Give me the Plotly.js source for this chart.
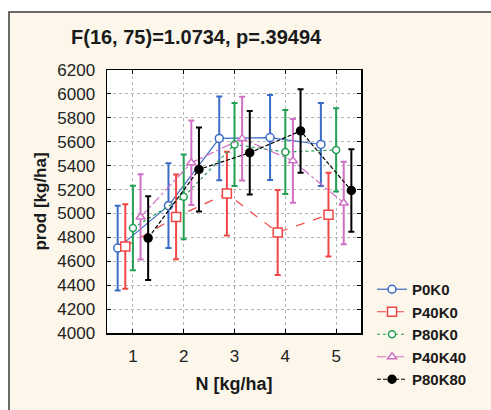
<!DOCTYPE html>
<html>
<head>
<meta charset="utf-8">
<script src="https://cdn.plot.ly/plotly-3.0.1.min.js"></script>
<style>html,body{margin:0;padding:0;background:#fff;}#chart{width:491px;height:410px;}</style>
</head>
<body>
<div id="chart"></div>
<script>
// ---- data ----
const xLevels = [1, 2, 3, 4, 5];
const xTickLabels = ['1', '2', '3', '4', '5'];
const yTicks = [4000, 4200, 4400, 4600, 4800, 5000, 5200, 5400, 5600, 5800, 6000, 6200];

const seriesNames = ['P0K0', 'P40K0', 'P80K0', 'P40K40', 'P80K80'];

const P0K0   = [4710, 5065, 5628, 5635, 5577];
const P40K0  = [4724, 4971, 5166, 4841, 4990];
const P80K0  = [4878, 5139, 5577, 5514, 5531];
const P40K40 = [4971, 5424, 5626, 5440, 5088];
const P80K80 = [4794, 5368, 5508, 5690, 5192];

const P0K0_err   = [355, 355, 350, 355, 347];
const P40K0_err  = [354, 355, 350, 355, 350];
const P80K0_err  = [353, 354, 347, 351, 348];
const P40K40_err = [357, 353, 350, 350, 345];
const P80K80_err = [350, 352, 350, 350, 345];

const seriesValues = [P0K0, P40K0, P80K0, P40K40, P80K80];
const seriesErrors = [P0K0_err, P40K0_err, P80K0_err, P40K40_err, P80K80_err];

// ---- styles ----
const colors  = ['#3b6cc6', '#f04646', '#23a055', '#d070c4', '#000000'];
const dashes  = ['solid', 'dash', 'dot', 'dashdot', '4px,2px'];
const symbols = ['circle', 'square', 'circle', 'triangle-up', 'circle'];
const fills   = ['#ffffff', '#ffffff', '#ffffff', '#ffffff', '#000000'];
const sizes   = [8, 9, 7, 8, 8];
const dodge   = [-0.30, -0.15, 0.0, 0.15, 0.30];

const FONT = 'Liberation Sans, Arial, sans-serif';

const traces = seriesNames.map((name, s) => ({
  type: 'scatter',
  mode: 'lines+markers',
  name: name,
  x: xLevels.map(v => v + dodge[s]),
  y: seriesValues[s],
  error_y: {type: 'data', array: seriesErrors[s], visible: true,
            color: colors[s], thickness: 2, width: 3},
  line: {color: colors[s], width: 1.2, dash: dashes[s]},
  marker: {symbol: symbols[s], size: sizes[s], color: fills[s],
           line: {color: colors[s], width: 1.5}}
}));

const L = 107, R = 130, T = 70, B = 77, W = 491, H = 410;
const pw = W - L - R, ph = H - T - B;
const px2x = p => (p - L) / pw;
const py2y = p => (H - B - p) / ph;

const layout = {
  width: W, height: H,
  margin: {l: L, r: R, t: T, b: B, pad: 0},
  paper_bgcolor: '#ffffff',
  plot_bgcolor: '#ffffff',
  font: {family: FONT, color: '#000'},
  showlegend: true,
  title: {text: '<b>F(16, 75)=1.0734, p=.39494</b>', x: 71 / W, xanchor: 'left',
          xref: 'container', y: 1 - 37 / H, yanchor: 'middle', yref: 'container',
          font: {family: FONT, size: 20, color: '#1a1a1a'}},
  xaxis: {
    range: [0.49, 5.49], tickmode: 'array', tickvals: xLevels, ticktext: xTickLabels,
    showgrid: true, gridcolor: '#b5b5b5', griddash: 'dot', gridwidth: 1,
    zeroline: false, showline: true, linecolor: '#000', linewidth: 1.5, mirror: 'ticks',
    ticks: 'inside', ticklen: 4, tickcolor: '#000', tickwidth: 1,
    ticklabelstandoff: 7,
    tickfont: {family: FONT, size: 17, color: '#222'},
    title: {text: '<b>N [kg/ha]</b>', standoff: 12, font: {family: FONT, size: 18, color: '#1a1a1a'}},
    automargin: false
  },
  yaxis: {
    range: [4000, 6200], tickmode: 'array', tickvals: yTicks,
    showgrid: true, gridcolor: '#b5b5b5', griddash: 'dot', gridwidth: 1,
    zeroline: false, showline: true, linecolor: '#000', linewidth: 1.5, mirror: 'ticks',
    ticks: 'inside', ticklen: 4, tickcolor: '#000', tickwidth: 1,
    ticklabelstandoff: 7,
    tickfont: {family: FONT, size: 17, color: '#222'},
    title: {text: '<b>prod [kg/ha]</b>', standoff: 6, font: {family: FONT, size: 17, color: '#1a1a1a'}},
    automargin: false
  },
  legend: {xref: 'container', yref: 'container',
           x: 372 / W, y: 1 - 273 / H, xanchor: 'left', yanchor: 'top',
           bgcolor: 'rgba(0,0,0,0)', borderwidth: 0, tracegroupgap: 0,
           itemwidth: 30,
           font: {family: FONT, size: 15, color: '#1a1a1a', weight: 'bold'}},
  shapes: [
    {type: 'rect', xref: 'paper', yref: 'paper', layer: 'below',
     x0: px2x(9), x1: px2x(520), y0: py2y(430), y1: py2y(12),
     fillcolor: '#fcf7ea', line: {color: '#3a3a3a', width: 1.5}},
    {type: 'rect', xref: 'paper', yref: 'paper', layer: 'below',
     x0: 0, x1: 1, y0: 0, y1: 1,
     fillcolor: '#ffffff', line: {width: 0}}
  ]
};

Plotly.newPlot('chart', traces, layout, {displayModeBar: false, staticPlot: true});
</script>
</body>
</html>
